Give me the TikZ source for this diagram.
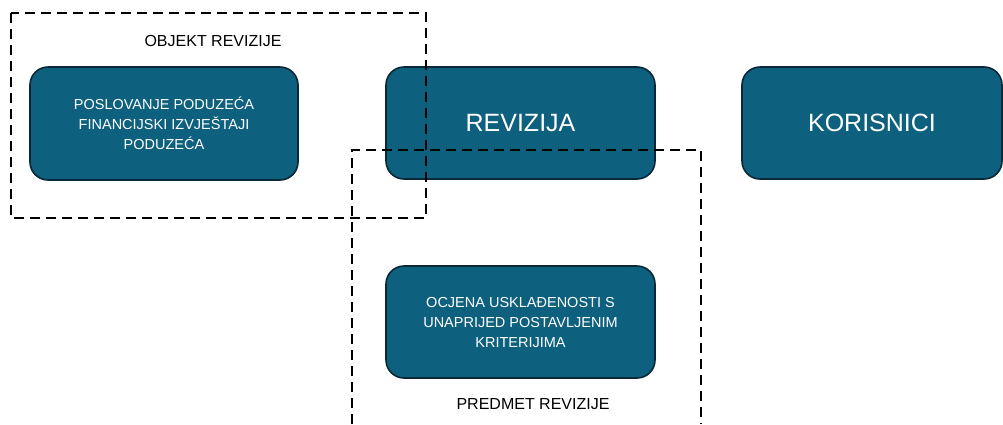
\documentclass[tikz,border=0pt]{standalone}
\usepackage{fontspec}
\setmainfont{Liberation Sans}
\definecolor{boxfill}{RGB}{13,96,126}
\definecolor{boxline}{RGB}{10,40,56}
\tikzset{
  card/.style={draw=boxline, line width=1.6pt, fill=boxfill, rounded corners=18pt,
    text=white, align=center, inner sep=0pt},
  smalltxt/.style={font=\fontsize{14.5}{20}\selectfont},
  bigtxt/.style={font=\fontsize{25}{30}\selectfont},
  dashbox/.style={draw=black, line width=2.5pt, dash pattern=on 10pt off 6pt},
  lbl/.style={font=\fontsize{16}{20}\selectfont, text=black, inner sep=0pt}
}
\begin{document}
\begin{tikzpicture}[x=1pt,y=-1pt]
\useasboundingbox (0,0) rectangle (1003,424);
\node[card, smalltxt, minimum width=268pt, minimum height=113pt] (obj) at (164,123.5)
  {POSLOVANJE PODUZEĆA\\FINANCIJSKI IZVJEŠTAJI\\PODUZEĆA};
\node[card, bigtxt, minimum width=269pt, minimum height=112pt] (rev) at (520.5,123) {REVIZIJA};
\node[card, bigtxt, minimum width=260pt, minimum height=112pt] (kor) at (872,123) {KORISNICI};
\node[card, smalltxt, minimum width=269pt, minimum height=112pt] (ocj) at (520.5,322)
  {OCJENA USKLAĐENOSTI S\\UNAPRIJED POSTAVLJENIM\\KRITERIJIMA};
\draw[dashbox] (11,13) rectangle (426,218);
\draw[dashbox] (352,424) -- (352,150) -- (701,150) -- (701,424);
\node[lbl] (objl) at (213,41) {OBJEKT REVIZIJE};
\node[lbl] (predl) at (533,404) {PREDMET REVIZIJE};
\end{tikzpicture}
\end{document}
